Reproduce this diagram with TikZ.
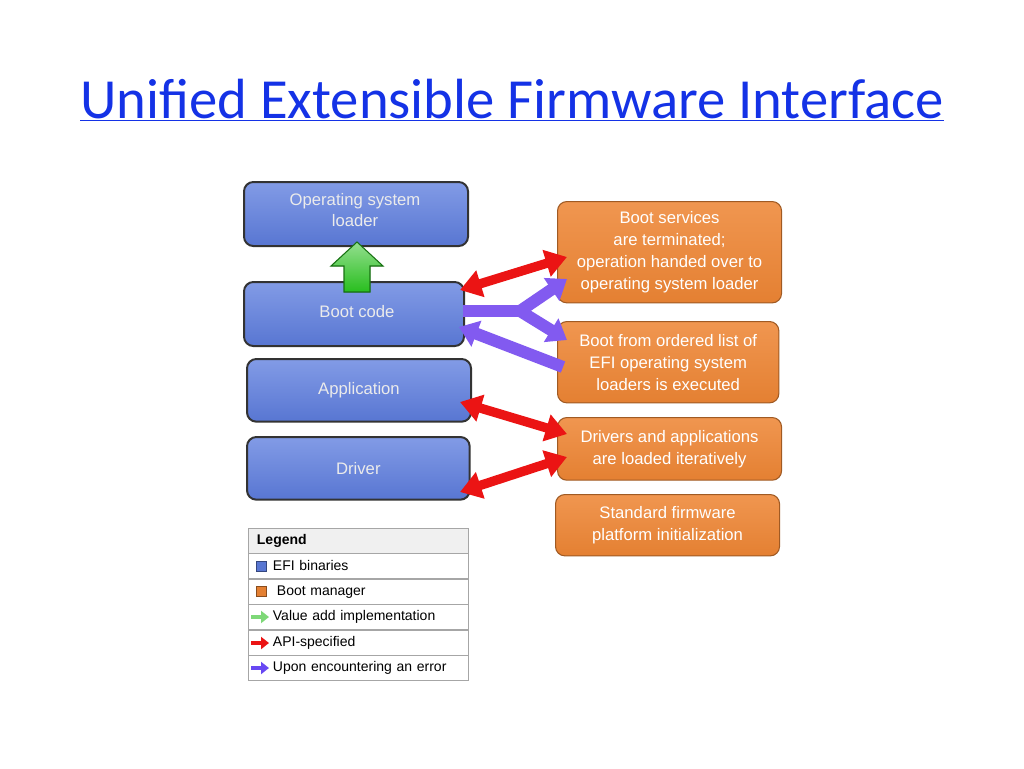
\documentclass[tikz,border=0pt]{standalone}
\usepackage{fontspec}
\setmainfont{Liberation Sans}
\newfontfamily\titlefont{Carlito}
\usetikzlibrary{arrows.meta}
\definecolor{bluebox}{RGB}{88,118,210}
\definecolor{bluetop}{RGB}{130,155,230}
\definecolor{orangebox}{RGB}{228,128,50}
\definecolor{orangetop}{RGB}{240,150,80}
\definecolor{linkblue}{RGB}{20,50,230}
\definecolor{apired}{RGB}{235,20,20}
\definecolor{errpurple}{RGB}{130,90,240}
\definecolor{valgreen}{RGB}{40,190,30}
\begin{document}
\begin{tikzpicture}[x=0.75pt,y=-0.75pt,
 efibox/.style={draw=black!80,line width=1.5pt,rounded corners=7pt,top color=bluetop,bottom color=bluebox,text=white!92!black,font=\fontsize{12.5}{16}\selectfont,align=center,anchor=north west,inner sep=2pt},
 mgrbox/.style={draw=orangebox!70!black,line width=0.8pt,rounded corners=7pt,top color=orangetop,bottom color=orangebox,text=white,font=\fontsize{12.5}{16.5}\selectfont,align=center,anchor=north west,inner sep=2pt},
 apiarrow/.style={draw=apired,line width=7pt,{Triangle[length=16pt,width=20pt]}-{Triangle[length=16pt,width=20pt]}},
 errline/.style={draw=errpurple,line width=9pt},
 legrow/.style={draw=gray!70,anchor=north west,minimum width=165pt,minimum height=19pt,text width=158pt,font=\fontsize{10.5}{12}\selectfont,inner sep=3pt}]
\useasboundingbox (0,0) rectangle (1024,768);
\node[font=\titlefont\fontsize{42.5}{46}\selectfont,text=linkblue] (title) at (512,100) {\underline{Unified Extensible Firmware Interface}};
% blue boxes
\node[efibox,minimum width=168pt,minimum height=48pt] (os) at (243,181) {};
\node[text=white!92!black,font=\fontsize{12.5}{16}\selectfont,align=center] (osl) at (355,210) {Operating system\\loader};
\node[efibox,minimum width=165pt,minimum height=48pt] (boot) at (243,281) {};
\node at (357,312) [text=white!92!black,font=\fontsize{12.5}{16}\selectfont] (bootl) {Boot code};
\node[efibox,minimum width=168pt,minimum height=47pt] (app) at (246,358) {Application};
\node[efibox,minimum width=167pt,minimum height=47pt] (drv) at (246,436) {Driver};
% orange boxes
\node[mgrbox,minimum width=168pt,minimum height=76pt] (m1) at (557,201) {Boot services\\are terminated;\\operation handed over to\\operating system loader};
\node[mgrbox,minimum width=166pt,minimum height=61pt] (m2) at (557,321) {Boot from ordered list of\\EFI operating system\\loaders is executed};
\node[mgrbox,minimum width=168pt,minimum height=47pt] (m3) at (557,417) {Drivers and applications\\are loaded iteratively};
\node[mgrbox,minimum width=168pt,minimum height=46pt] (m4) at (555,494) {Standard firmware\\platform initialization};
% green arrow
\coordinate (gA) at (357,242);
\filldraw[draw=valgreen!60!black,line width=0.8pt,top color=valgreen!50!white,bottom color=valgreen] (gA) -- (383,266) -- (370,266) -- (370,292) -- (344,292) -- (344,266) -- (331,266) -- cycle;
% red arrows
\coordinate (r1a) at (460,290); \coordinate (r1b) at (567,257);
\draw[apiarrow] (r1a) -- (r1b);
\coordinate (r2a) at (460,402); \coordinate (r2b) at (567,434);
\draw[apiarrow] (r2a) -- (r2b);
\coordinate (r3a) at (460,492); \coordinate (r3b) at (567,457);
\draw[apiarrow] (r3a) -- (r3b);
% purple arrows
\coordinate (p0) at (463,311); \coordinate (pj) at (520,311);
\coordinate (pt1) at (567,279); \coordinate (pt2) at (567,340);
\draw[errline,line join=round] (p0) -- (pj);
\draw[errline,-{Triangle[length=14pt,width=20pt]}] (pj) -- (pt1);
\draw[errline,-{Triangle[length=14pt,width=20pt]}] (pj) -- (pt2);
\coordinate (pb) at (563,367); \coordinate (pe) at (459,327);
\draw[errline,-{Triangle[length=14pt,width=20pt]}] (pb) -- (pe);
% legend
\node[legrow,fill=gray!12,font=\bfseries\fontsize{10.5}{12}\selectfont] (lh) at (248,528) {\hspace{3pt}Legend};
\node[legrow] (l1) at (248,553) {\hspace{15pt}EFI binaries};
\node[legrow] (l2) at (248,579) {\hspace{18pt}Boot manager};
\node[legrow] (l3) at (248,604) {\hspace{15pt}Value add implementation};
\node[legrow] (l4) at (248,630) {\hspace{15pt}API-specified};
\node[legrow] (l5) at (248,655) {\hspace{15pt}Upon encountering an error};
\fill[bluebox,draw=bluebox!60!black,line width=0.3pt] (256,561) rectangle (266,571);
\fill[orangebox,draw=orangebox!60!black,line width=0.3pt] (256,586) rectangle (266,596);
\draw[valgreen!60,line width=3pt,-{Triangle[length=6pt,width=9pt]}] (251,617) -- (269,617);
\draw[apired,line width=3pt,-{Triangle[length=6pt,width=9pt]}] (251,643) -- (269,643);
\draw[errpurple!80!blue,line width=3pt,-{Triangle[length=6pt,width=9pt]}] (251,668) -- (269,668);
\end{tikzpicture}
\end{document}
